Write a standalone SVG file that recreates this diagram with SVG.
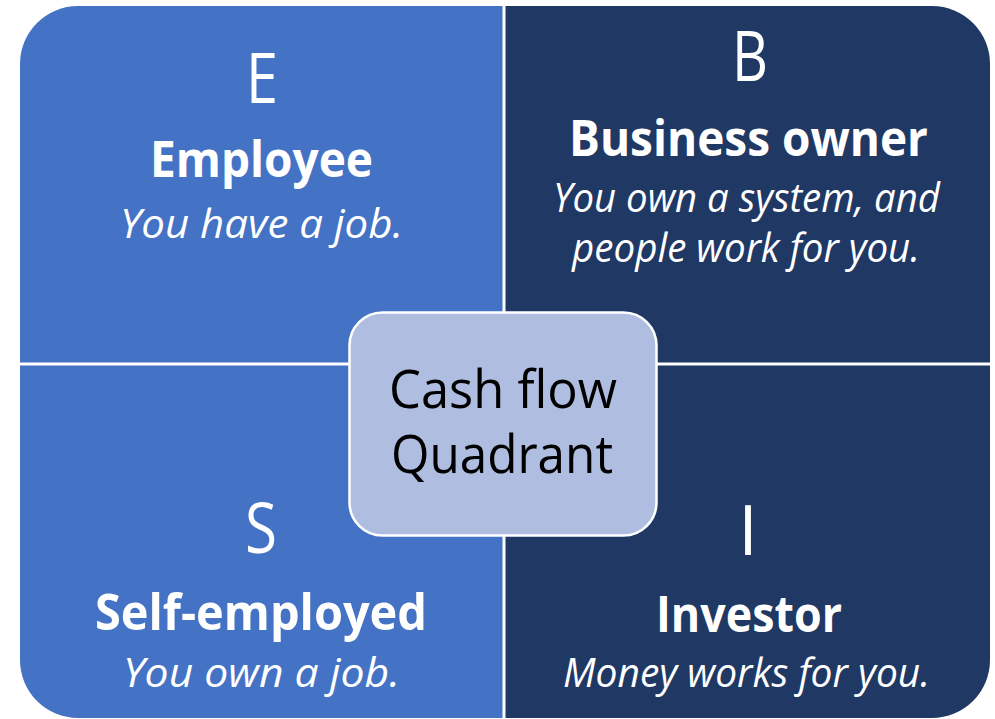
<svg xmlns="http://www.w3.org/2000/svg" width="995" height="719" viewBox="0 0 995 719">
  <style>
    .light { fill: #4472C4; }
    .dark { fill: #203864; }
    text { font-family: "Open Sans", "Noto Sans", "Liberation Sans", sans-serif; fill: #FFFFFF; text-anchor: middle; }
    .letter { font-size: 70px; font-weight: 400; }
    .title { font-size: 50px; font-weight: 700; }
    .note { font-size: 41px; font-style: italic; font-weight: 400; }
    .center-box { fill: #AFBDE0; stroke: #FFFFFF; stroke-width: 2.5; }
    .center-text { font-size: 53px; font-weight: 400; fill: #000000; }
  </style>

  <!-- Top-left quadrant: Employee -->
  <g id="quadrant-e">
    <path class="light" d="M20,64 A58,58 0 0 1 78,6 H502.5 V362.5 H20 Z"/>
    <text class="letter" x="262" y="103" textLength="32" lengthAdjust="spacingAndGlyphs">E</text>
    <text class="title" x="261.5" y="177" textLength="223" lengthAdjust="spacingAndGlyphs">Employee</text>
    <text class="note" x="261.5" y="238" textLength="283" lengthAdjust="spacingAndGlyphs">You have a job.</text>
  </g>

  <!-- Top-right quadrant: Business owner -->
  <g id="quadrant-b">
    <path class="dark" d="M505.5,6 H932 A58,58 0 0 1 990,64 V362.5 H505.5 Z"/>
    <text class="letter" x="750" y="81" textLength="36" lengthAdjust="spacingAndGlyphs">B</text>
    <text class="title" x="748.5" y="156" textLength="359" lengthAdjust="spacingAndGlyphs">Business owner</text>
    <text class="note" x="746.5" y="212" textLength="387" lengthAdjust="spacingAndGlyphs">You own a system, and</text>
    <text class="note" x="746" y="262" textLength="348" lengthAdjust="spacingAndGlyphs">people work for you.</text>
  </g>

  <!-- Bottom-left quadrant: Self-employed -->
  <g id="quadrant-s">
    <path class="light" d="M20,365.5 H502.5 V718 H78 A58,58 0 0 1 20,660 Z"/>
    <text class="letter" x="261" y="553" textLength="32" lengthAdjust="spacingAndGlyphs">S</text>
    <text class="title" x="261" y="630" textLength="332" lengthAdjust="spacingAndGlyphs">Self-employed</text>
    <text class="note" x="261.5" y="687" textLength="277" lengthAdjust="spacingAndGlyphs">You own a job.</text>
  </g>

  <!-- Bottom-right quadrant: Investor -->
  <g id="quadrant-i">
    <path class="dark" d="M505.5,365.5 H990 V660 A58,58 0 0 1 932,718 H505.5 Z"/>
    <text class="letter" x="748" y="555">I</text>
    <text class="title" x="749" y="632" textLength="186" lengthAdjust="spacingAndGlyphs">Investor</text>
    <text class="note" x="746.5" y="687" textLength="367" lengthAdjust="spacingAndGlyphs">Money works for you.</text>
  </g>

  <!-- Central label box -->
  <g id="center">
    <rect class="center-box" x="349.5" y="312.5" width="307" height="223" rx="33" ry="33"/>
    <text class="center-text" x="503" y="408" textLength="228" lengthAdjust="spacingAndGlyphs">Cash flow</text>
    <text class="center-text" x="502" y="473" textLength="222" lengthAdjust="spacingAndGlyphs">Quadrant</text>
  </g>
</svg>
